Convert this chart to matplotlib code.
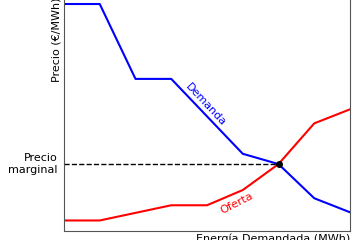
import matplotlib
matplotlib.use("Agg")
import matplotlib.pyplot as plt

# datos (unidades arbitrarias)
demanda_x = [0, 1, 2, 3, 5, 6, 7, 8]
demanda_y = [97, 97, 65, 65, 33, 28.6, 14, 8]
oferta_x = [0, 1, 3, 4, 5, 6, 7, 8]
oferta_y = [4.5, 4.5, 11, 11, 17.5, 28.6, 46, 52]
cantidad_eq = 6
precio_eq = 28.6

fig = plt.figure(figsize=(3.56, 2.40), dpi=100)
ax = fig.add_axes([64 / 356, 9 / 240, 286 / 356, 234 / 240])

ax.plot(demanda_x, demanda_y, color="#0000ff", lw=1.5)
ax.plot(oferta_x, oferta_y, color="#ff0000", lw=1.5)
ax.plot([0, cantidad_eq], [precio_eq, precio_eq], "k--", lw=1)
ax.plot(cantidad_eq, precio_eq, "ko", ms=4)

ax.text(3.97, 53.8, "Demanda", color="#0000ff", fontsize=8,
        rotation=-47, ha="center", va="center")
ax.text(4.84, 12, "Oferta", color="#ff0000", fontsize=8,
        rotation=27, ha="center", va="center")

ax.set_xlim(0, 8)
ax.set_ylim(0, 100)
ax.set_xticks([])
ax.set_yticks([])
ax.text(-0.17, precio_eq, "Precio\nmarginal", fontsize=8, ha="right",
        va="center", multialignment="right")

ax.set_xlabel("Energía Demandada (MWh)", loc="right", fontsize=8, labelpad=2)
ax.set_ylabel("Precio (€/MWh)", loc="top", fontsize=8, labelpad=2)
for s in ax.spines.values():
    s.set_color("#555555")

fig.savefig("out.png", dpi=100)
